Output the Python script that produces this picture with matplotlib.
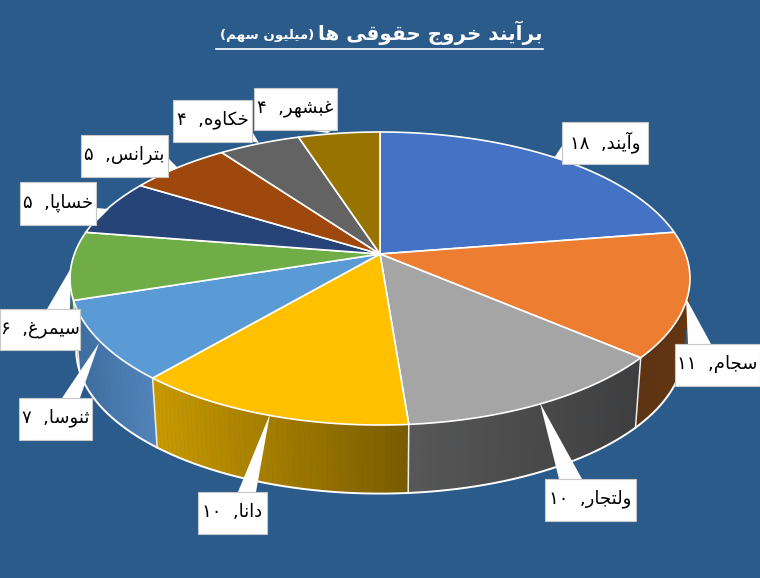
import matplotlib
matplotlib.use("Agg")
import matplotlib.pyplot as plt
from matplotlib.patches import Polygon, Rectangle
import numpy as np

names = ["وآیند", "سجام", "ولتجار", "دانا", "ثنوسا", "سیمرغ", "خساپا", "بترانس", "خکاوه", "غبشهر"]
values = [18, 11, 10, 10, 7, 6, 5, 5, 4, 4]
title_main = "برآیند خروج حقوقی ها"
title_unit = "(میلیون سهم)"

top_colors = ["#4472C4", "#ED7D31", "#A5A5A5", "#FFC000", "#5B9BD5",
              "#70AD47", "#264478", "#9E480E", "#636363", "#997300"]
# side colours, left end and right end of each visible wall
wall_colors = {1: ("#5e3212", "#66360f"), 2: ("#585858", "#3e3e3e"),
               3: ("#c99a00", "#7a5c00"), 4: ("#3f6e9f", "#5285bb"),
               5: ("#4a7a30", "#4a7a30")}

# callout boxes: left, top, right, bottom, then tail base and tip in pixels
boxes = [(562, 122, 648, 164), (675, 344, 760, 386), (545, 479, 636, 521),
         (198, 492, 267, 534), (19, 398, 92, 440), (0, 309, 80, 350),
         (20, 182, 96, 225), (81, 135, 168, 177), (173, 100, 252, 142),
         (254, 88, 337, 130)]
tails = [((562, 146), (562, 160), (554, 158)), ((688, 344), (711, 344), (686, 298)),
         ((559, 479), (582, 479), (540, 403)), ((238, 492), (256, 492), (270, 414)),
         ((62, 398), (80, 398), (99, 343)), ((47, 309), (70, 309), (71, 268)),
         ((96, 208), (96, 222), (109, 209)), ((168, 158), (168, 172), (178, 168)),
         ((250, 128), (250, 141), (259, 143)), ((305, 130), (332, 130), (328, 133))]

# small arabic shaper, matplotlib does not join the letters itself
dual = {"ب": 0xFE8F, "ت": 0xFE95, "ث": 0xFE99, "ج": 0xFE9D, "ح": 0xFEA1, "خ": 0xFEA5,
        "س": 0xFEB1, "ش": 0xFEB5, "غ": 0xFECD, "ق": 0xFED5, "ل": 0xFEDD, "م": 0xFEE1,
        "ن": 0xFEE5, "ه": 0xFEE9, "پ": 0xFB56, "ی": 0xFBFC, "ک": 0xFB8E}
right = {"ا": 0xFE8D, "آ": 0xFE81, "د": 0xFEA9, "ر": 0xFEAD, "و": 0xFEED}


def shape(s):
    out = []
    for i, c in enumerate(s):
        if c not in dual and c not in right:
            out.append({"(": ")", ")": "("}.get(c, c))
            continue
        prev = s[i - 1] if i > 0 else " "
        nxt = s[i + 1] if i < len(s) - 1 else " "
        joined = prev in dual
        if c in right:
            out.append(chr(right[c] + (1 if joined else 0)))
        else:
            forward = nxt in dual or nxt in right
            off = {(False, False): 0, (True, False): 1, (False, True): 2, (True, True): 3}[(joined, forward)]
            out.append(chr(dual[c] + off))
    return "".join(reversed(out))


def fa_digits(n):
    return str(n).translate(str.maketrans("0123456789", "۰۱۲۳۴۵۶۷۸۹"))


# perspective of the disc, fitted on the reference
cx, cy = 380, 254
A, B, k = 305.6, 142.4, 0.1673
bottom_cy, bottom_scale = 326, 0.98


def rim(theta, lower=False):
    u, v = np.sin(theta), np.cos(theta)
    d = 1 + k * v
    if lower:
        return cx + bottom_scale * A * u / d, bottom_cy - bottom_scale * B * v / d
    return cx + A * u / d, cy - B * v / d


def mix(c1, c2, t):
    a = np.array(matplotlib.colors.to_rgb(c1))
    b = np.array(matplotlib.colors.to_rgb(c2))
    return tuple(a + (b - a) * t)


fig = plt.figure(figsize=(7.6, 5.78), dpi=100, facecolor="#2B5B8B")
ax = fig.add_axes([0, 0, 1, 1])
ax.set_xlim(0, 760)
ax.set_ylim(578, 0)
ax.axis("off")

edges = np.radians(np.cumsum([0] + values) / sum(values) * 360)
wall_from, wall_to = np.radians(98), np.radians(263)

# walls
for i in wall_colors:
    t0, t1 = max(edges[i], wall_from), min(edges[i + 1], wall_to)
    ts = np.linspace(t0, t1, 50)
    xs = rim(ts)[0]
    for j in range(len(ts) - 1):
        xt, yt = rim(ts[j:j + 2])
        xb, yb = rim(ts[j:j + 2], True)
        f = (xs[j] - xs.min()) / (xs.max() - xs.min())
        c = mix(wall_colors[i][0], wall_colors[i][1], f)
        ax.add_patch(Polygon(list(zip(xt, yt)) + list(zip(xb[::-1], yb[::-1])), closed=True,
                             facecolor=c, edgecolor=c, lw=0.4, zorder=2))
    if edges[i] >= wall_from:
        xt, yt = rim(edges[i])
        xb, yb = rim(edges[i], True)
        ax.plot([xt, xb], [yt, yb], color="#eeeeee", lw=1.1, zorder=3)

ts = np.linspace(wall_from, wall_to, 300)
ax.plot(*rim(ts, True), color="white", lw=1.4, zorder=3)

# top face
for i, c in enumerate(top_colors):
    ts = np.linspace(edges[i], edges[i + 1], 80)
    xt, yt = rim(ts)
    pts = [(cx, cy)] + list(zip(xt, yt))
    ax.add_patch(Polygon(pts, closed=True, facecolor=c, edgecolor="white", lw=1.2, joinstyle="round", zorder=4))

# callouts
for i, name in enumerate(names):
    l, t, r, b = boxes[i]
    ax.add_patch(Polygon(tails[i], closed=True, facecolor="white", edgecolor="none", zorder=5))
    ax.add_patch(Rectangle((l, t), r - l, b - t, facecolor="white", edgecolor="#c8c8c8", lw=0.8, zorder=6))
    ax.text((l + r) / 2, (t + b) / 2 - 1, fa_digits(values[i]) + "  ," + shape(name), ha="center", va="center",
            fontsize=13, color="black", family="DejaVu Sans", zorder=7)

# title
ax.text(543, 33, shape(title_main), ha="right", va="center", fontsize=14.3, fontweight="bold",
        color="white", family="DejaVu Sans")
ax.text(314, 36, shape(title_unit), ha="right", va="center", fontsize=9.6, fontweight="bold",
        color="white", family="DejaVu Sans")
ax.plot([216, 543], [49, 49], color="white", lw=1.2)

fig.savefig("out.png", dpi=100, facecolor=fig.get_facecolor())
